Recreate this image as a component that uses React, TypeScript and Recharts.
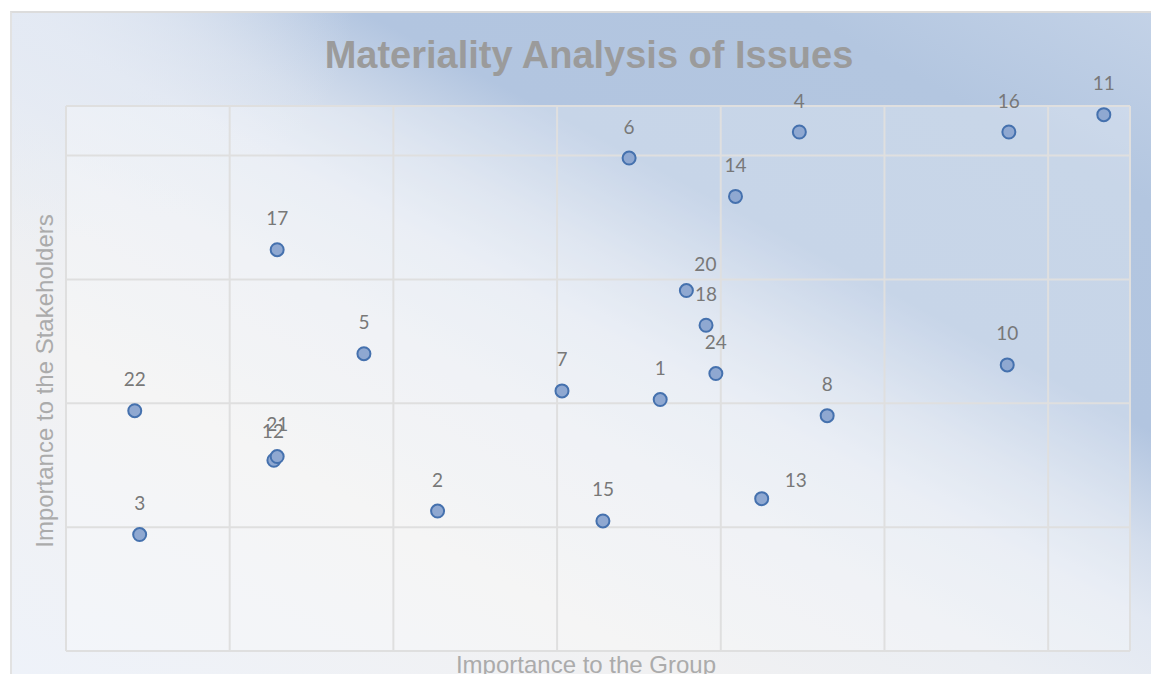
import { ScatterChart, Scatter, XAxis, YAxis, CartesianGrid } from 'recharts';

// issue ids and their scores (group importance, stakeholder importance)
const ISSUES = [1, 2, 3, 4, 5, 6, 7, 8, 10, 11, 12, 13, 14, 15, 16, 17, 18, 20, 21, 22, 24];
const GROUP = [3.63, 2.27, 0.45, 4.48, 1.82, 3.44, 3.03, 4.65, 5.75, 6.34, 1.27, 4.25, 4.09, 3.28, 5.76, 1.29, 3.91, 3.79, 1.29, 0.42, 3.97];
const STAKE = [2.03, 1.13, 0.94, 4.19, 2.40, 3.98, 2.10, 1.90, 2.31, 4.33, 1.54, 1.23, 3.67, 1.05, 4.19, 3.24, 2.63, 2.91, 1.57, 1.94, 2.24];
const X_TICKS = [0, 1, 2, 3, 4, 5, 6];
const Y_TICKS = [0, 1, 2, 3, 4];

// labels that were dragged away from the default spot above the marker
const LABEL_SHIFT: Record<number, [number, number]> = {
  20: [19, -27],
  13: [34, -19],
  12: [-1, -30],
  21: [0, -33],
};

const data = ISSUES.map((id, i) => ({ id, x: GROUP[i], y: STAKE[i] }));

function Dot(props: any) {
  const { cx, cy, payload } = props;
  const [dx, dy] = LABEL_SHIFT[payload.id] || [0, -32];
  return (
    <g>
      <circle cx={cx} cy={cy} r={6.5} fill="#8fa8d1" stroke="#4571ae" strokeWidth={2} />
      <text x={cx + dx} y={cy + dy} textAnchor="middle" dominantBaseline="central"
        fontFamily="Lato, 'Noto Sans', sans-serif" fontSize={19} fill="#787878">
        {payload.id}
      </text>
    </g>
  );
}

export default function App() {
  return (
    <div style={{ position: 'absolute', left: 0, top: 0, width: 1151, height: 674, overflow: 'hidden', background: '#fff' }}>
      <div style={{
        position: 'absolute', left: 10, top: 11, width: 1141, height: 663,
        borderTop: '2px solid #dcdcdc', borderLeft: '2px solid #e2e2e2',
        background: [
          'radial-gradient(ellipse 30% 35% at 0% 0%, rgba(228,234,244,0.9) 0%, rgba(228,234,244,0) 100%)',
          'linear-gradient(28deg, #eef2f9 0%, #f1f1f2 28%, #ebeef3 42%, #e2e8f2 52%, #d3ddec 58%, #b2c5e0 67%, #b3c6e0 85%, #c3d2e7 100%)',
        ].join(','),
      }} />
      <div style={{
        position: 'absolute', left: 0, top: 30, width: 1178, textAlign: 'center',
        fontFamily: "'Liberation Sans', Arial, sans-serif", fontWeight: 'bold', fontSize: 38, color: '#9b9b9b', lineHeight: '50px',
      }}>
        Materiality Analysis of Issues
      </div>
      <div style={{
        position: 'absolute', left: 586, top: 665, transform: 'translate(-50%, -50%)', whiteSpace: 'nowrap',
        fontFamily: "'Liberation Sans', Arial, sans-serif", fontSize: 24, color: '#ababab',
      }}>
        Importance to the Group
      </div>
      <div style={{
        position: 'absolute', left: 45, top: 381, transform: 'translate(-50%, -50%) rotate(-90deg)', whiteSpace: 'nowrap',
        fontFamily: "'Liberation Sans', Arial, sans-serif", fontSize: 24, color: '#ababab',
      }}>
        Importance to the Stakeholders
      </div>
      <div style={{ position: 'absolute', left: 0, top: 0 }}>
        <ScatterChart width={1151} height={674} margin={{ top: 106, right: 21, bottom: 23, left: 66 }}>
          <CartesianGrid stroke="#dfdfdf" strokeWidth={2} fill="rgba(255,255,255,0.28)" fillOpacity={1} />
          <XAxis type="number" dataKey="x" domain={[0, 6.5]} ticks={X_TICKS} hide />
          <YAxis type="number" dataKey="y" domain={[0, 4.4]} ticks={Y_TICKS} hide />
          <Scatter data={data} shape={<Dot />} isAnimationActive={false} />
        </ScatterChart>
      </div>
    </div>
  );
}
